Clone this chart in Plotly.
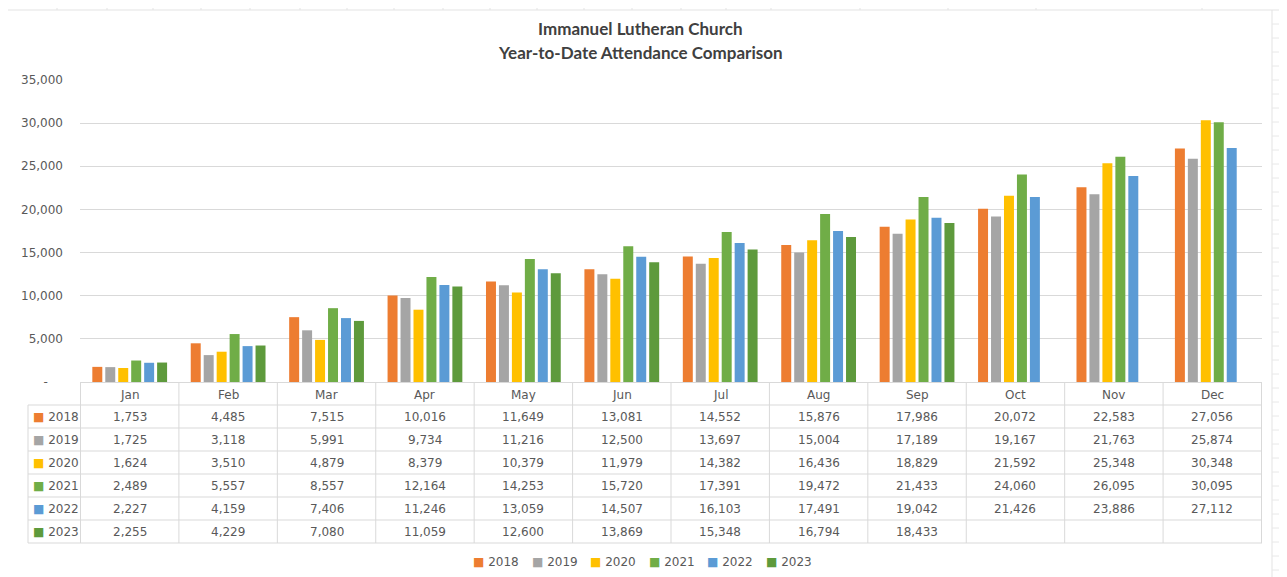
import plotly.graph_objects as go

W, H = 1287, 577

months = ["Jan", "Feb", "Mar", "Apr", "May", "Jun", "Jul", "Aug", "Sep", "Oct", "Nov", "Dec"]
years = ["2018", "2019", "2020", "2021", "2022", "2023"]

y2018 = [1753, 4485, 7515, 10016, 11649, 13081, 14552, 15876, 17986, 20072, 22583, 27056]
y2019 = [1725, 3118, 5991, 9734, 11216, 12500, 13697, 15004, 17189, 19167, 21763, 25874]
y2020 = [1624, 3510, 4879, 8379, 10379, 11979, 14382, 16436, 18829, 21592, 25348, 30348]
y2021 = [2489, 5557, 8557, 12164, 14253, 15720, 17391, 19472, 21433, 24060, 26095, 30095]
y2022 = [2227, 4159, 7406, 11246, 13059, 14507, 16103, 17491, 19042, 21426, 23886, 27112]
y2023 = [2255, 4229, 7080, 11059, 12600, 13869, 15348, 16794, 18433, None, None, None]

series = [y2018, y2019, y2020, y2021, y2022, y2023]
colors = ["#ED7D31", "#A5A5A5", "#FFC000", "#70AD47", "#5B9BD5", "#5E9A3C"]

ytick_vals = [0, 5000, 10000, 15000, 20000, 25000, 30000, 35000]
ytick_text = ["-    ", "5,000", "10,000", "15,000", "20,000", "25,000", "30,000", "35,000"]

FONT = "DejaVu Sans"
TFONT = "Lato"
TXT = "#595959"
LINE = "#D9D9D9"
OFF = 8  # page body margin offset


def px(x):
    return (x - OFF) / W


def py(y):
    return 1 - (y - OFF) / H


fig = go.Figure()
for yr, vals, c in zip(years, series, colors):
    fig.add_trace(go.Bar(name=yr, x=months, y=vals, marker=dict(color=c, line=dict(width=0)),
                         showlegend=False))

plot_left, plot_right = 80, 1262
plot_top, plot_bottom = 80, 382
table_left = 28
header_bottom = 405
row_h = 23
n_rows = len(years)
table_bottom = header_bottom + row_h * n_rows

annotations = []
# titles
annotations.append(dict(text="<b>Immanuel Lutheran Church</b>", x=px(640), y=py(28), xref="paper", yref="paper",
                        showarrow=False, font=dict(family=TFONT, size=17, color="#404040"), xanchor="center", yanchor="middle"))
annotations.append(dict(text="<b>Year-to-Date Attendance Comparison</b>", x=px(640), y=py(52), xref="paper", yref="paper",
                        showarrow=False, font=dict(family=TFONT, size=17, color="#404040"), xanchor="center", yanchor="middle"))

# table header (month names)
for m in months:
    annotations.append(dict(text=m, x=m, y=py((plot_bottom + header_bottom) / 2 + 1), xref="x", yref="paper",
                            showarrow=False, font=dict(family=FONT, size=12, color=TXT), xanchor="center", yanchor="middle"))

# table body
for r, (yr, vals, c) in enumerate(zip(years, series, colors)):
    yc = py(header_bottom + row_h * (r + 0.5))
    annotations.append(dict(text=f"<span style='color:{c}'>■</span> {yr}", x=px(table_left + 3), y=yc,
                            xref="paper", yref="paper", showarrow=False,
                            font=dict(family=FONT, size=12, color=TXT), xanchor="left", yanchor="middle"))
    for m, v in zip(months, vals):
        if v is None:
            continue
        annotations.append(dict(text=f"{v:,}", x=m, y=yc, xref="x", yref="paper", showarrow=False,
                                font=dict(family=FONT, size=12, color=TXT), xanchor="center", yanchor="middle"))

# legend (compact, spreadsheet style)
legend_start, legend_pitch = 471, 58.5
for i, (yr, c) in enumerate(zip(years, colors)):
    annotations.append(dict(text=f"<span style='color:{c}'>■</span> {yr}", x=px(legend_start + legend_pitch * i),
                            y=py(562), xref="paper", yref="paper", showarrow=False,
                            font=dict(family=FONT, size=12, color=TXT), xanchor="left", yanchor="middle"))

shapes = []
# vertical table lines at category boundaries
for i in range(len(months) + 1):
    shapes.append(dict(type="line", xref="x", yref="paper", x0=i - 0.5, x1=i - 0.5,
                       y0=py(plot_bottom), y1=py(table_bottom), line=dict(color=LINE, width=1)))
# left border of label column
shapes.append(dict(type="line", xref="paper", yref="paper", x0=px(table_left), x1=px(table_left),
                   y0=py(header_bottom), y1=py(table_bottom), line=dict(color=LINE, width=1)))
# horizontal table lines
for r in range(n_rows + 1):
    yy = py(header_bottom + row_h * r)
    shapes.append(dict(type="line", xref="paper", yref="paper", x0=px(table_left), x1=px(plot_right),
                       y0=yy, y1=yy, line=dict(color=LINE, width=1)))

# surrounding spreadsheet grid (decoration)
shapes.append(dict(type="line", xref="paper", yref="paper", x0=0, x1=1, y0=py(10), y1=py(10),
                   line=dict(color="#E3E3E3", width=1)))
for gx in [57, 107, 153, 201, 250, 300, 347, 394, 443, 490, 537, 584, 632, 681, 726, 771, 860, 948, 1036, 1202]:
    shapes.append(dict(type="line", xref="paper", yref="paper", x0=px(gx), x1=px(gx), y0=1, y1=py(10),
                       line=dict(color="#E3E3E3", width=1)))
shapes.append(dict(type="line", xref="paper", yref="paper", x0=px(1272), x1=px(1272), y0=py(10), y1=0,
                   line=dict(color="#E3E3E3", width=1)))
for gy in range(24, H, 14):
    shapes.append(dict(type="line", xref="paper", yref="paper", x0=px(1272), x1=1, y0=py(gy), y1=py(gy),
                       line=dict(color="#E8E8E8", width=1)))

fig.update_layout(
    width=W, height=H,
    margin=dict(l=0, r=0, t=0, b=0, autoexpand=False),
    paper_bgcolor="white", plot_bgcolor="white",
    barmode="group", bargap=0.21, bargroupgap=0.23,
    font=dict(family=FONT, size=12, color=TXT),
    showlegend=False,
    xaxis=dict(domain=[px(plot_left), px(plot_right)], showticklabels=False, showgrid=False,
               showline=True, linecolor=LINE, linewidth=1, ticks="", zeroline=False, automargin=False,
               categoryorder="array", categoryarray=months),
    yaxis=dict(domain=[py(plot_bottom), py(plot_top)], range=[0, 35000], tickvals=ytick_vals,
               ticktext=ytick_text, showgrid=True, gridcolor=LINE, gridwidth=1, zeroline=False, automargin=False,
               showline=False, ticks="", ticklabelstandoff=16, tickfont=dict(family=FONT, size=12, color=TXT)),
    annotations=annotations,
    shapes=shapes,
)

fig.write_html("out.html")
